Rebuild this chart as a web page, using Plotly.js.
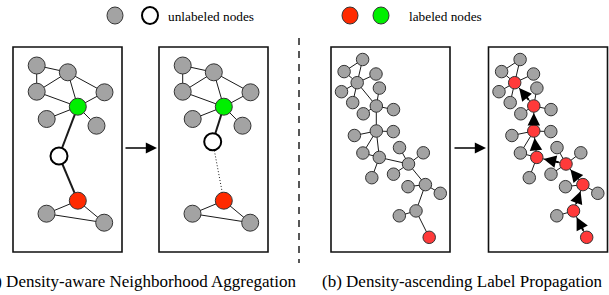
<!DOCTYPE html>
<html><head><meta charset="utf-8">
<script src="https://cdn.plot.ly/plotly-3.0.1.min.js"></script>
<style>html,body{margin:0;padding:0;background:#fff}</style>
</head><body><div id="chart" style="width:609px;height:295px"></div>
<script>
// ---------- Graph (a): neighborhood aggregation (panel-1 frame, px) ----------
const aNodeX = [36.7, 67.8, 36.7, 104.5, 77.8, 46.7, 96.5, 59.0, 77.8, 46.5, 104.2];
const aNodeY = [65.5, 72.3, 91.7, 92.3, 106.7, 119.0, 125.7, 156.0, 200.7, 213.7, 222.7];
const aNodeType = ['u','u','u','u','g','u','u','w','r','u','u'];
const aWhiteAfterX = 66.7, aWhiteAfterY = 141.7;   // white node after aggregation
const aEdges = [[0,1],[0,2],[1,2],[1,3],[1,4],[2,4],[3,4],[5,4],[6,4],[8,9],[8,10],[9,10]];
const aLinkGreen = [4,7];
const aLinkRed = [7,8];

// ---------- Graph (b): label propagation (panel-3 frame, px) ----------
const bNodeX = [362.6,344.1,357.2,376.0,341.5,379.4,352.7,376.3,363.3,393.5,376.3,354.4,393.3,
                362.9,399.5,379.3,423.3,408.5,371.8,393.5,425.4,408.0,440.3,416.0,399.3,429.2];
const bNodeY = [59.5,71.6,82.7,74.0,91.7,88.1,102.6,106.0,113.8,109.6,131.0,135.5,131.6,
                153.0,147.6,157.4,152.8,164.0,177.7,174.2,184.6,186.7,193.3,210.9,215.8,237.3];
const bEdges = [[0,1],[0,2],[1,2],[2,3],[2,4],[2,6],[2,7],[7,5],[7,8],[7,9],[7,10],[10,11],[10,12],
                [10,13],[10,15],[13,15],[15,17],[14,17],[15,18],[17,16],[17,19],[17,20],[20,21],
                [20,22],[20,23],[23,24],[23,25]];
const bSeed = 25;                                   // labeled node before propagation
const bPath = [25,23,20,17,15,10,7,2];              // density-ascending chain

// ---------- text ----------
const legendLabels = ['unlabeled nodes', 'labeled nodes'];
const captions = ['(a) Density-aware Neighborhood Aggregation', '(b) Density-ascending Label Propagation'];

// ---------- layout constants ----------
const offA = 146, offB = 157.5;
const boxA = [13, 47, 122, 252], boxB = [331, 47, 450, 252];
const GRAY = '#a3a3a3', RED = '#ff2a00', REDB = '#ff3a3a', GREEN = '#00f000';
const EDGE = '#1a1a1a';
const SERIF = 'Liberation Serif, Times New Roman, serif';

function edgeXY(X, Y, edges, dx) {
  const x = [], y = [];
  edges.forEach(([i, j]) => { x.push(X[i] + dx, X[j] + dx, null); y.push(Y[i], Y[j], null); });
  return {x, y};
}
function lineTrace(xy, width, dash) {
  return {type:'scatter', mode:'lines', x:xy.x, y:xy.y, hoverinfo:'skip',
          line:{color:EDGE, width:width, dash:dash||'solid'}};
}
const typeColor = t => t === 'g' ? GREEN : t === 'r' ? RED : t === 'w' ? '#ffffff' : GRAY;

const traces = [];
const shapes = [];
const annotations = [];

// Panels (a)
[0, offA].forEach((dx, k) => {
  const X = aNodeX.slice(), Y = aNodeY.slice();
  if (k === 1) { X[7] = aWhiteAfterX; Y[7] = aWhiteAfterY; }
  traces.push(lineTrace(edgeXY(X, Y, aEdges, dx), 1));
  traces.push(lineTrace(edgeXY(X, Y, [aLinkGreen], dx), 2));
  if (k === 0) traces.push(lineTrace(edgeXY(X, Y, [aLinkRed], dx), 2));
  else traces.push(lineTrace(edgeXY(X, Y, [aLinkRed], dx), 1, '1px,2px'));
  traces.push({type:'scatter', mode:'markers', hoverinfo:'skip',
    x: X.map(v => v + dx), y: Y,
    marker:{size:17, color: aNodeType.map(typeColor),
      line:{color: aNodeType.map(t => t === 'w' ? '#000' : '#333'),
            width: aNodeType.map(t => t === 'w' ? 2 : 1)}}});
  shapes.push({type:'rect', xref:'x', yref:'y', x0:boxA[0]+dx, y0:boxA[1], x1:boxA[2]+dx, y1:boxA[3],
    line:{color:'#111', width:1.6}, layer:'below'});
});

// Panels (b)
[0, offB].forEach((dx, k) => {
  traces.push(lineTrace(edgeXY(bNodeX, bNodeY, bEdges, dx), 1));
  const colors = bNodeX.map((_, i) => {
    if (k === 0) return i === bSeed ? REDB : GRAY;
    return bPath.includes(i) ? REDB : GRAY;
  });
  traces.push({type:'scatter', mode:'markers', hoverinfo:'skip',
    x: bNodeX.map(v => v + dx), y: bNodeY,
    marker:{size:12.5, color: colors, line:{color:'#333', width:1}}});
  shapes.push({type:'rect', xref:'x', yref:'y', x0:boxB[0]+dx, y0:boxB[1], x1:boxB[2]+dx, y1:boxB[3],
    line:{color:'#111', width:1.6}, layer:'below'});
  if (k === 1) {
    for (let s = 0; s < bPath.length - 1; s++) {
      const a = bPath[s], b = bPath[s + 1];
      annotations.push({xref:'x', yref:'y', axref:'x', ayref:'y', text:'', showarrow:true,
        x: bNodeX[b] + dx, y: bNodeY[b], ax: bNodeX[a] + dx, ay: bNodeY[a],
        arrowhead:2, arrowsize:1.25, arrowwidth:2, arrowcolor:'#000', standoff:7, startstandoff:6});
    }
  }
});

// Panel-to-panel arrows
[[124, 157, 148], [453, 486, 148]].forEach(([x0, x1, y]) => {
  annotations.push({xref:'x', yref:'y', axref:'x', ayref:'y', text:'', showarrow:true,
    x:x1, y:y, ax:x0, ay:y, arrowhead:2, arrowsize:1.4, arrowwidth:1.6, arrowcolor:'#000'});
});

// Separator
shapes.push({type:'line', xref:'x', yref:'y', x0:299, x1:299, y0:38, y1:263,
  line:{color:'#111', width:1.4, dash:'7px,6px'}});

// Legend
const legendDots = [[115, GRAY, '#333', 1], [150, '#ffffff', '#000', 2], [350, RED, '#333', 1], [381, GREEN, '#333', 1]];
legendDots.forEach(([cx, fill, lc, lw]) => {
  shapes.push({type:'circle', xref:'x', yref:'y', x0:cx-8, x1:cx+8, y0:15.5-8.5, y1:15.5+8.5,
    fillcolor:fill, line:{color:lc, width:lw}});
});
annotations.push({xref:'x', yref:'y', x:166, y:16, xanchor:'left', yanchor:'middle', showarrow:false,
  text:legendLabels[0], font:{family:SERIF, size:13.3, color:'#000'}});
annotations.push({xref:'x', yref:'y', x:407, y:16, xanchor:'left', yanchor:'middle', showarrow:false,
  text:legendLabels[1], font:{family:SERIF, size:13.3, color:'#000'}});

// Captions
annotations.push({xref:'x', yref:'y', x:139, y:281, xanchor:'center', yanchor:'middle', showarrow:false,
  text:captions[0], font:{family:SERIF, size:17, color:'#000'}});
annotations.push({xref:'x', yref:'y', x:462, y:281, xanchor:'center', yanchor:'middle', showarrow:false,
  text:captions[1], font:{family:SERIF, size:17, color:'#000'}});

const layout = {
  width:609, height:295, margin:{l:0, r:0, t:0, b:0},
  paper_bgcolor:'#fff', plot_bgcolor:'#fff', showlegend:false,
  xaxis:{range:[0,609], visible:false, fixedrange:true},
  yaxis:{range:[295,0], visible:false, fixedrange:true},
  shapes:shapes, annotations:annotations
};
Plotly.newPlot('chart', traces, layout, {staticPlot:true, displayModeBar:false});
</script></body></html>
